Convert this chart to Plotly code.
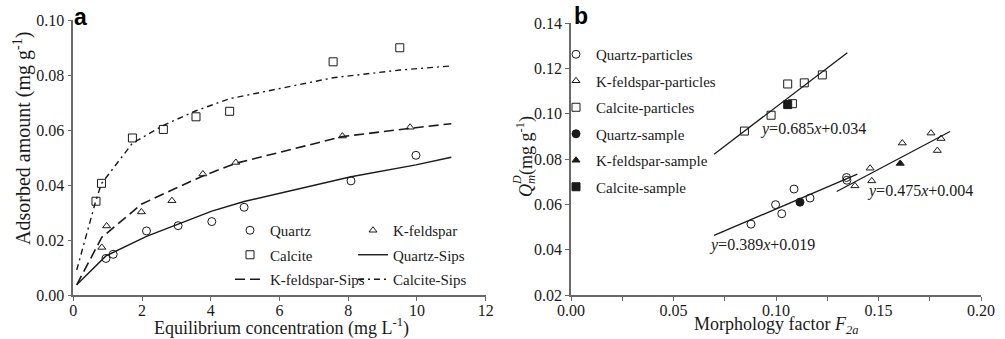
import plotly.graph_objects as go

# ---------------- Panel a data ----------------
quartz_x = [0.95, 1.16, 2.13, 3.05, 4.03, 4.97, 8.08, 9.97]
quartz_y = [0.0133, 0.0148, 0.0233, 0.0252, 0.0267, 0.0319, 0.0415, 0.0508]
kfeld_x = [0.83, 0.97, 1.98, 2.87, 3.77, 4.73, 7.83, 9.80]
kfeld_y = [0.0173, 0.0251, 0.0302, 0.0343, 0.0440, 0.0482, 0.0578, 0.0610]
calcite_x = [0.66, 0.82, 1.72, 2.62, 3.57, 4.55, 7.56, 9.50]
calcite_y = [0.0341, 0.0406, 0.0571, 0.0602, 0.0648, 0.0668, 0.0848, 0.0899]

quartz_sips_x = [0.1, 0.95, 2.13, 3.05, 4.03, 4.97, 8.08, 9.97, 11.0]
quartz_sips_y = [0.0037, 0.0142, 0.0213, 0.0258, 0.0305, 0.0340, 0.0430, 0.0473, 0.0501]
kfeld_sips_x = [0.1, 0.83, 0.97, 1.98, 2.87, 3.77, 4.73, 7.83, 9.80, 11.0]
kfeld_sips_y = [0.0037, 0.0210, 0.0224, 0.0330, 0.0382, 0.0433, 0.0479, 0.0576, 0.0606, 0.0623]
calcite_sips_x = [0.1, 0.66, 0.82, 1.72, 2.62, 3.57, 4.55, 7.56, 9.50, 11.0]
calcite_sips_y = [0.0091, 0.0345, 0.0405, 0.0552, 0.0617, 0.0670, 0.0714, 0.0790, 0.0818, 0.0833]

# ---------------- Panel b data ----------------
quartz_p_x = [0.0878, 0.0998, 0.1028, 0.1088, 0.1166, 0.1344, 0.1346]
quartz_p_y = [0.0513, 0.0599, 0.0559, 0.0668, 0.0628, 0.0719, 0.0707]
kfeld_p_x = [0.1385, 0.1459, 0.1467, 0.1616, 0.1756, 0.1787, 0.1805]
kfeld_p_y = [0.0682, 0.0760, 0.0704, 0.0871, 0.0915, 0.0838, 0.0891]
calcite_p_x = [0.0846, 0.0976, 0.1057, 0.1080, 0.1138, 0.1226]
calcite_p_y = [0.0924, 0.0994, 0.1132, 0.1045, 0.1137, 0.1172]
quartz_s_x = [0.1117]
quartz_s_y = [0.0610]
kfeld_s_x = [0.1606]
kfeld_s_y = [0.0781]
calcite_s_x = [0.1057]
calcite_s_y = [0.1041]

calcite_fit_x = [0.0698, 0.1348]
calcite_fit_y = [0.0822, 0.1270]
quartz_fit_x = [0.0698, 0.1397]
quartz_fit_y = [0.0463, 0.0734]
kfeld_fit_x = [0.1296, 0.1849]
kfeld_fit_y = [0.0657, 0.0922]

eq_labels = ["<i>y</i>=0.685<i>x</i>+0.034", "<i>y</i>=0.475<i>x</i>+0.004", "<i>y</i>=0.389<i>x</i>+0.019"]

SERIF = "Liberation Serif"
INK = "#1a1a1a"
AXC = "#6a6a6a"
W, H = 1005, 339

fig = go.Figure()

def mk(symbol, size=8):
    return dict(symbol=symbol, size=size, color=INK, line=dict(color=INK, width=1))

# ---- panel a traces ----
a_items = [
    dict(x=quartz_x, y=quartz_y, mode="markers", name="Quartz", marker=mk("circle-open"), legend="legend"),
    dict(x=calcite_x, y=calcite_y, mode="markers", name="Calcite", marker=mk("square-open"), legend="legend"),
    dict(x=kfeld_sips_x, y=kfeld_sips_y, mode="lines", name="K-feldspar-Sips",
         line=dict(color=INK, width=1.6, dash="10px,5px"), legend="legend"),
    dict(x=kfeld_x, y=kfeld_y, mode="markers", name="K-feldspar", marker=mk("triangle-up-open", 7), legend="legend2"),
    dict(x=quartz_sips_x, y=quartz_sips_y, mode="lines", name="Quartz-Sips",
         line=dict(color=INK, width=1.4), legend="legend2"),
    dict(x=calcite_sips_x, y=calcite_sips_y, mode="lines", name="Calcite-Sips",
         line=dict(color=INK, width=1.4, dash="6px,4px,2px,4px"), legend="legend2"),
]
for i, it in enumerate(a_items):
    fig.add_trace(go.Scatter(**it, legendgroup=f"a{i}", xaxis="x", yaxis="y", cliponaxis=False))

# ---- panel b traces ----
b_series = [
    (quartz_p_x, quartz_p_y, "Quartz-particles", "circle-open", 8),
    (kfeld_p_x, kfeld_p_y, "K-feldspar-particles", "triangle-up-open", 7),
    (calcite_p_x, calcite_p_y, "Calcite-particles", "square-open", 8),
    (quartz_s_x, quartz_s_y, "Quartz-sample", "circle", 8),
    (kfeld_s_x, kfeld_s_y, "K-feldspar-sample", "triangle-up", 7),
    (calcite_s_x, calcite_s_y, "Calcite-sample", "square", 8),
]
for i, (bx, by, nm, sym, sz) in enumerate(b_series):
    fig.add_trace(go.Scatter(x=bx, y=by, mode="markers", name=nm, marker=mk(sym, sz),
                             legend="legend3", legendgroup=f"b{i}", xaxis="x2", yaxis="y2"))
for fx, fy in [(calcite_fit_x, calcite_fit_y), (quartz_fit_x, quartz_fit_y), (kfeld_fit_x, kfeld_fit_y)]:
    fig.add_trace(go.Scatter(x=fx, y=fy, mode="lines", showlegend=False,
                             line=dict(color=INK, width=1.3), xaxis="x2", yaxis="y2"))

def px_x(p):
    return p / W

def px_y(p):
    return 1 - p / H

axis_common = dict(showline=True, linecolor=AXC, linewidth=1.5, ticks="outside", ticklen=4,
                   tickwidth=1, tickcolor=AXC, showgrid=False, zeroline=False, automargin=False,
                   tickfont=dict(family=SERIF, size=16, color=INK))

legend_font = dict(family=SERIF, size=15, color=INK)

fig.update_layout(
    template="none",
    font=dict(family=SERIF, size=16, color=INK),
    width=W, height=H, margin=dict(l=0, r=0, t=0, b=0, pad=0, autoexpand=False),
    paper_bgcolor="white", plot_bgcolor="white",
    xaxis=dict(domain=[px_x(73.3), px_x(485.7)], range=[0, 12], dtick=2, tick0=0,
               anchor="y", ticklabelstandoff=-4, **axis_common),
    yaxis=dict(domain=[px_y(295), px_y(20)], range=[0, 0.10], dtick=0.02, tick0=0,
               tickformat=".2f", anchor="x", **axis_common),
    xaxis2=dict(domain=[px_x(571), px_x(981)], range=[0, 0.20], dtick=0.05, tick0=0,
                tickformat=".2f", anchor="y2", ticklabelstandoff=-4,
                minor=dict(dtick=0.025, ticks="outside", ticklen=4, tickcolor=AXC),
                **axis_common),
    yaxis2=dict(domain=[px_y(295), px_y(23.3)], range=[0.02, 0.14], dtick=0.02, tick0=0.02,
                tickformat=".2f", anchor="x2", **axis_common),
    legend=dict(x=px_x(230), y=px_y(214), xanchor="left", yanchor="top",
                font=legend_font, bgcolor="rgba(0,0,0,0)", borderwidth=0, tracegroupgap=2),
    legend2=dict(x=px_x(353), y=px_y(214), xanchor="left", yanchor="top",
                 font=legend_font, bgcolor="rgba(0,0,0,0)", borderwidth=0, tracegroupgap=2),
    legend3=dict(x=px_x(556), y=px_y(38), xanchor="left", yanchor="top",
                 font=legend_font, bgcolor="rgba(0,0,0,0)", borderwidth=0, tracegroupgap=4),
    showlegend=True,
)

ann = []
ann.append(dict(text="Equilibrium concentration (mg L<sup>-1</sup>)", x=px_x(281), y=px_y(327),
                xref="paper", yref="paper", showarrow=False, xanchor="center", yanchor="middle",
                font=dict(family=SERIF, size=18, color=INK)))
ann.append(dict(text="Adsorbed amount (mg g<sup>-1</sup>)", x=px_x(22), y=px_y(139),
                xref="paper", yref="paper", showarrow=False, xanchor="center", yanchor="middle",
                textangle=-90, font=dict(family=SERIF, size=20, color=INK)))
ann.append(dict(text="Morphology factor <i>F</i><sub><i>2a</i></sub>", x=px_x(776), y=px_y(325),
                xref="paper", yref="paper", showarrow=False, xanchor="center", yanchor="middle",
                font=dict(family=SERIF, size=18, color=INK)))
ann.append(dict(text="<i>Q</i><sub><i>m</i></sub>(mg g<sup>-1</sup>)", x=px_x(525), y=px_y(157),
                xref="paper", yref="paper", showarrow=False, xanchor="center", yanchor="middle",
                textangle=-90, font=dict(family=SERIF, size=18, color=INK)))
ann.append(dict(text="<i>D</i>", x=px_x(517), y=px_y(180), xref="paper", yref="paper", showarrow=False,
                xanchor="center", yanchor="middle", textangle=-90,
                font=dict(family=SERIF, size=12, color=INK)))
ann.append(dict(text="<b>a</b>", x=px_x(72), y=px_y(17), xref="paper", yref="paper", showarrow=False,
                xanchor="left", yanchor="middle", font=dict(family="Liberation Sans", size=23, color="#000")))
ann.append(dict(text="<b>b</b>", x=px_x(572), y=px_y(16), xref="paper", yref="paper", showarrow=False,
                xanchor="left", yanchor="middle", font=dict(family="Liberation Sans", size=23, color="#000")))
eq_pos = [(0.0914, 0.0932), (0.1434, 0.0660), (0.0662, 0.0422)]
for t, (ex, ey) in zip(eq_labels, eq_pos):
    ann.append(dict(text=t, x=ex, y=ey, xref="x2", yref="y2", showarrow=False,
                    xanchor="left", yanchor="middle", font=dict(family=SERIF, size=16, color=INK)))
fig.update_layout(annotations=ann)

fig.write_html("out.html")
